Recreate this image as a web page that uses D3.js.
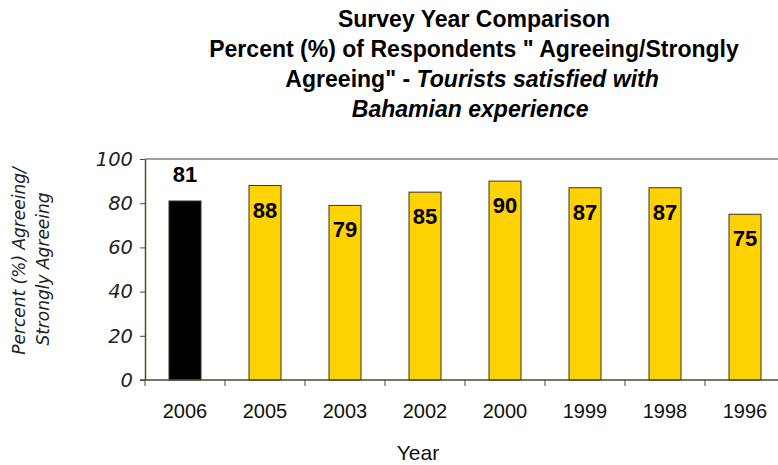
<!DOCTYPE html>
<html>
<head>
<meta charset="utf-8">
<script src="https://cdn.jsdelivr.net/npm/d3@7"></script>
<style>
  body { margin: 0; background: #fff; }
  text { font-family: "Liberation Sans", Arial, sans-serif; }
</style>
</head>
<body>
<svg id="chart" width="778" height="465"></svg>
<script>
const years = ["2006", "2005", "2003", "2002", "2000", "1999", "1998", "1996"];
const values = [81, 88, 79, 85, 90, 87, 87, 75];
const yTicks = [0, 20, 40, 60, 80, 100];

const width = 778;
const height = 465;
const margin = { top: 159, left: 145, bottom: 85 };
const axisColor = "#4d4a30";

const svg = d3.select("#chart");

const x = d3.scaleBand()
  .domain(years)
  .range([margin.left, margin.left + 640])
  .paddingInner(0.6)
  .paddingOuter(0.3);

const y = d3.scaleLinear()
  .domain([0, 100])
  .range([height - margin.bottom, margin.top]);

// title (slightly condensed)
const title = svg.append("g")
  .attr("transform", "translate(474,0) scale(0.96,1)")
  .append("text")
  .attr("text-anchor", "middle")
  .style("font-size", "24px")
  .style("font-weight", "bold")
  .attr("fill", "#000");
title.append("tspan").attr("x", 0).attr("y", 27).text("Survey Year Comparison");
title.append("tspan").attr("x", 0).attr("y", 57).text("Percent (%) of Respondents \" Agreeing/Strongly");
const l3 = title.append("tspan").attr("x", -2).attr("y", 87);
l3.append("tspan").text("Agreeing\" - ");
l3.append("tspan").style("font-style", "italic").text("Tourists satisfied with");
title.append("tspan").attr("x", -4).attr("y", 117).style("font-style", "italic").text("Bahamian experience");

// top frame line
svg.append("line")
  .attr("x1", margin.left).attr("x2", width)
  .attr("y1", y(100)).attr("y2", y(100))
  .attr("stroke", "#808080").attr("stroke-width", 1.5);

// bars
svg.selectAll("rect.bar")
  .data(years)
  .join("rect")
  .attr("class", "bar")
  .attr("x", d => x(d))
  .attr("y", (d, i) => y(values[i]))
  .attr("width", x.bandwidth())
  .attr("height", (d, i) => y(0) - y(values[i]))
  .attr("fill", (d, i) => i === 0 ? "#000" : "#ffd200")
  .attr("stroke", "#3a3520")
  .attr("stroke-width", 1);

// value labels
svg.selectAll("text.val")
  .data(years)
  .join("text")
  .attr("class", "val")
  .attr("x", d => x(d) + x.bandwidth() / 2)
  .attr("y", (d, i) => i === 0 ? y(values[i]) - 19 : y(values[i]) + 32)
  .attr("text-anchor", "middle")
  .style("font-size", "22px")
  .style("font-weight", "bold")
  .attr("fill", "#000")
  .text((d, i) => values[i]);

// y axis
const yAxis = svg.append("g")
  .attr("transform", `translate(${margin.left},0)`)
  .call(d3.axisLeft(y).tickValues(yTicks).tickSize(5).tickSizeOuter(0).tickPadding(7));
yAxis.select(".domain").attr("stroke", axisColor).attr("stroke-width", 1.5);
yAxis.selectAll(".tick line").attr("stroke", axisColor);
yAxis.selectAll(".tick text")
  .attr("font-family", null)
  .style("font-family", "'DejaVu Sans', Verdana, sans-serif")
  .style("font-size", "19.5px")
  .style("font-style", "italic")
  .attr("fill", "#222");

// x axis
const step = x.step();
const xAxis = svg.append("g")
  .attr("transform", `translate(0,${y(0)})`);
xAxis.append("line")
  .attr("x1", margin.left - 5).attr("x2", width)
  .attr("stroke", axisColor).attr("stroke-width", 1.5);
xAxis.selectAll("line.tk")
  .data(years)
  .join("line")
  .attr("class", "tk")
  .attr("x1", d => x(d) - step * x.paddingInner() / 2)
  .attr("x2", d => x(d) - step * x.paddingInner() / 2)
  .attr("y1", 0).attr("y2", 6)
  .attr("stroke", axisColor);
xAxis.selectAll("text")
  .data(years)
  .join("text")
  .attr("x", d => x(d) + x.bandwidth() / 2)
  .attr("y", 38)
  .attr("text-anchor", "middle")
  .style("font-size", "20px")
  .attr("fill", "#111")
  .text(d => d);

svg.append("text")
  .attr("x", 418)
  .attr("y", 460)
  .attr("text-anchor", "middle")
  .style("font-size", "21px")
  .attr("fill", "#111")
  .text("Year");

// y axis title
const yt = svg.append("text")
  .attr("transform", "translate(0,264) rotate(-90)")
  .attr("text-anchor", "middle")
  .style("font-family", "'DejaVu Sans', Verdana, sans-serif")
  .style("font-size", "17px")
  .style("font-style", "italic")
  .attr("fill", "#222");
yt.append("tspan").attr("x", 3).attr("y", 25).text("Percent (%) Agreeing/");
yt.append("tspan").attr("x", -5).attr("y", 49).text("Strongly Agreeing");
</script>
</body>
</html>
